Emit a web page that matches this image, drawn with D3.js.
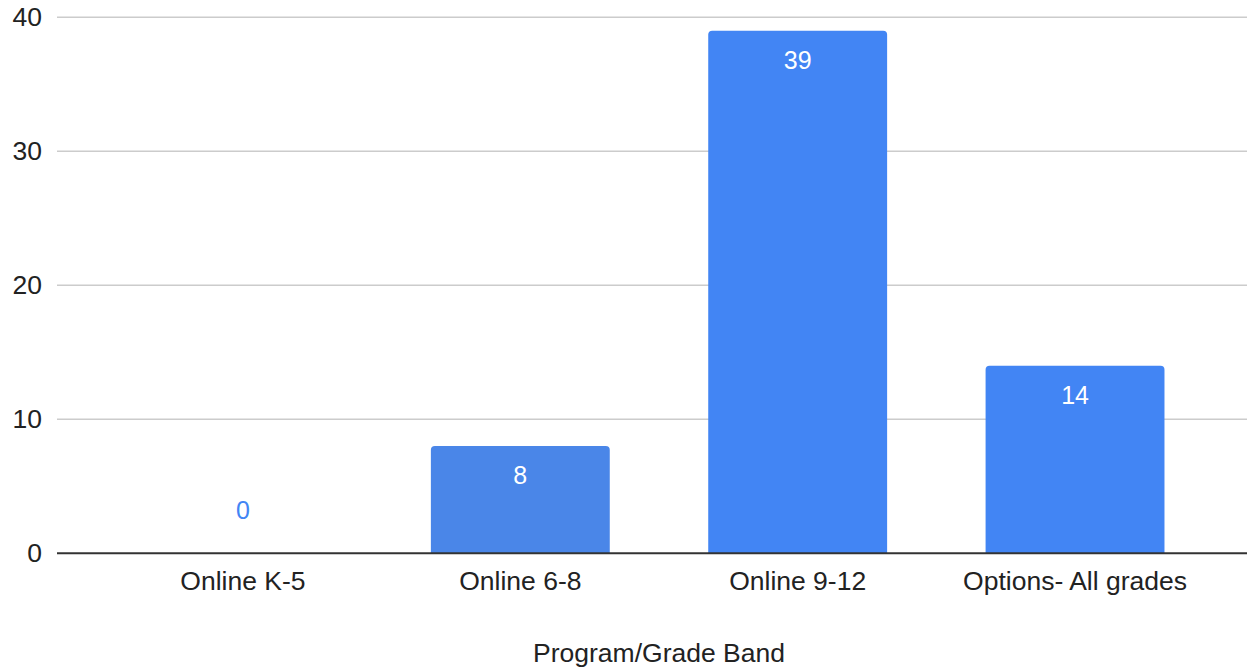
<!DOCTYPE html>
<html>
<head>
<meta charset="utf-8">
<script src="https://cdn.jsdelivr.net/npm/d3@7"></script>
<style>
  html, body { margin: 0; padding: 0; background: #ffffff; }
  svg { display: block; }
  text { font-family: "Liberation Sans", Arial, sans-serif; }
</style>
</head>
<body>
<svg id="chart" width="1247" height="670"></svg>
<script>
const categories = ["Online K-5", "Online 6-8", "Online 9-12", "Options- All grades"];
const values = [0, 8, 39, 14];
const barColors = ["#4285f4", "#4a86e8", "#4285f4", "#4285f4"];
const yTicks = [0, 10, 20, 30, 40];
const xTitle = "Program/Grade Band";

const svg = d3.select("#chart");
const plotLeft = 57, plotRight = 1261, plotTop = 17.3, plotBottom = 553.3;

const x = d3.scaleBand().domain(categories).range([plotLeft, plotRight])
  .paddingInner(0.355).paddingOuter(0.348);
const y = d3.scaleLinear().domain([0, 40]).range([plotBottom, plotTop]);

// gridlines
svg.append("g").selectAll("line").data(yTicks.filter(d => d !== 0)).join("line")
  .attr("x1", plotLeft).attr("x2", plotRight)
  .attr("y1", d => y(d)).attr("y2", d => y(d))
  .attr("stroke", "#cccccc").attr("stroke-width", 1.5);

// y tick labels
svg.append("g").selectAll("text").data(yTicks).join("text")
  .attr("x", 42).attr("y", d => y(d))
  .attr("text-anchor", "end").attr("dominant-baseline", "central")
  .attr("font-size", 26.5).attr("fill", "#222222")
  .text(d => d);

// bars with rounded top corners
const cornerR = 4;
function barPath(x0, w, yTop, yBase) {
  const h = yBase - yTop;
  if (h <= 0) return "";
  const rr = Math.min(cornerR, h, w / 2);
  return `M${x0},${yBase} V${yTop + rr} Q${x0},${yTop} ${x0 + rr},${yTop} H${x0 + w - rr} Q${x0 + w},${yTop} ${x0 + w},${yTop + rr} V${yBase} Z`;
}
svg.append("g").selectAll("path").data(categories).join("path")
  .attr("d", (c, i) => barPath(x(c), x.bandwidth(), y(values[i]), y(0)))
  .attr("fill", (c, i) => barColors[i]);

// data labels
svg.append("g").selectAll("text").data(categories).join("text")
  .attr("x", c => x(c) + x.bandwidth() / 2)
  .attr("y", (c, i) => values[i] === 0 ? y(0) - 34 : y(values[i]) + 38)
  .attr("text-anchor", "middle")
  .attr("font-family", "Roboto, 'Liberation Sans', sans-serif")
  .attr("font-size", 25)
  .attr("fill", (c, i) => values[i] === 0 ? "#4285f4" : "#ffffff")
  .text((c, i) => values[i]);

// zero baseline
svg.append("line")
  .attr("x1", plotLeft).attr("x2", plotRight)
  .attr("y1", y(0)).attr("y2", y(0))
  .attr("stroke", "#333333").attr("stroke-width", 2);

// x category labels
svg.append("g").selectAll("text").data(categories).join("text")
  .attr("x", c => x(c) + x.bandwidth() / 2)
  .attr("y", 590)
  .attr("text-anchor", "middle")
  .attr("font-size", 26.5).attr("fill", "#222222")
  .text(c => c);

// x axis title
svg.append("text")
  .attr("x", 659).attr("y", 662)
  .attr("text-anchor", "middle")
  .attr("font-size", 26.5).attr("fill", "#222222")
  .text(xTitle);
</script>
</body>
</html>
